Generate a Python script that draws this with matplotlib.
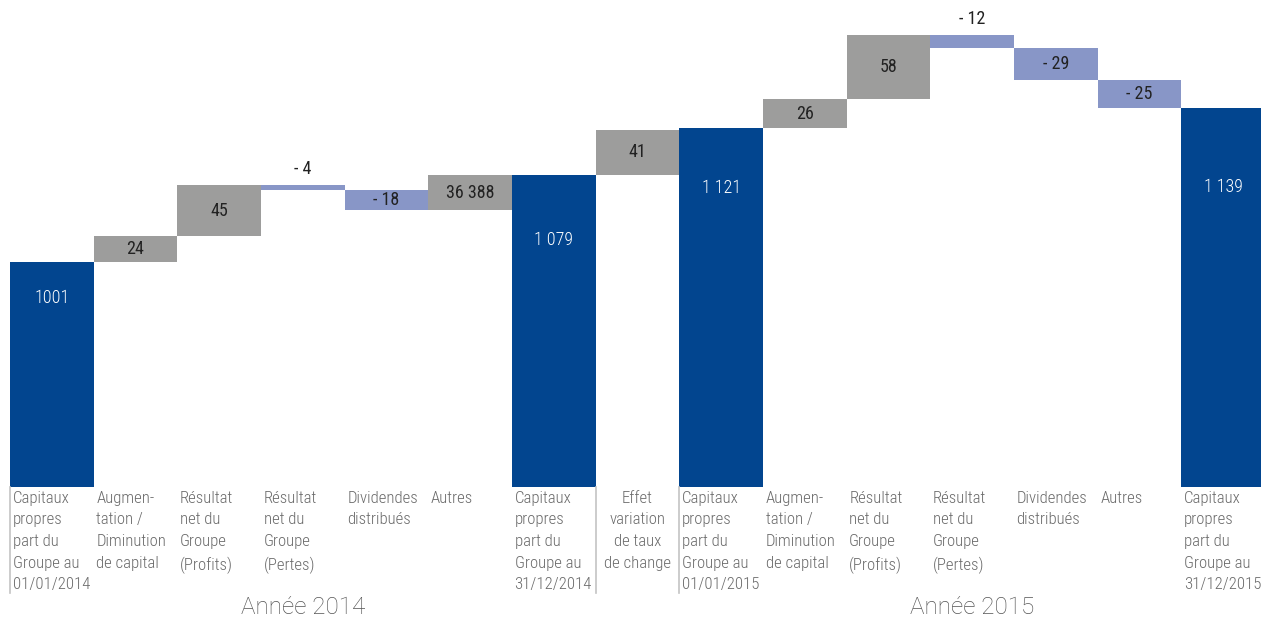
import matplotlib
matplotlib.use("Agg")
import matplotlib.pyplot as plt
from matplotlib import font_manager
from matplotlib.transforms import blended_transform_factory

# Equity bridge, 2014 -> 2015 (EUR m)
CATEGORIES = [
    "Capitaux\npropres\npart du\nGroupe au\n01/01/2014",
    "Augmen-\ntation /\nDiminution\nde capital",
    "Résultat\nnet du\nGroupe\n(Profits)",
    "Résultat\nnet du\nGroupe\n(Pertes)",
    "Dividendes\ndistribués",
    "Autres",
    "Capitaux\npropres\npart du\nGroupe au\n31/12/2014",
    "Effet\nvariation\nde taux\nde change",
    "Capitaux\npropres\npart du\nGroupe au\n01/01/2015",
    "Augmen-\ntation /\nDiminution\nde capital",
    "Résultat\nnet du\nGroupe\n(Profits)",
    "Résultat\nnet du\nGroupe\n(Pertes)",
    "Dividendes\ndistribués",
    "Autres",
    "Capitaux\npropres\npart du\nGroupe au\n31/12/2015",
]
VALUES = [1001, 24, 45, -4, -18, 31, 1079, 41, 1121, 26, 58, -12, -29, -25, 1139]
IS_TOTAL = [True, False, False, False, False, False, True, False, True,
            False, False, False, False, False, True]
VALUE_LABELS = ["1001", "24", "45", "- 4", "- 18", "36 388", "1 079", "41",
                "1 121", "26", "58", "- 12", "- 29", "- 25", "1 139"]
YEARS = ["Année 2014", "Année 2015"]

DARK_BLUE = "#02458f"
GREY = "#9d9d9c"
LIGHT_BLUE = "#8896c7"
# how far below the top of each total bar its label sits (pixels)
TOTAL_LABEL_DROP = {0: 36, 6: 65, 8: 60, 14: 79}


def pick_font(candidates):
    names = {f.name for f in font_manager.fontManager.ttflist}
    for c in candidates:
        if c in names:
            return c
    return "DejaVu Sans"


FONT = pick_font(["Roboto Condensed", "Liberation Sans Narrow", "DejaVu Sans"])
YEAR_FONT = pick_font(["Roboto", "Lato", "DejaVu Sans"])
plt.rcParams["font.family"] = [FONT, "DejaVu Sans"]

fig = plt.figure(figsize=(12.61, 6.19), dpi=100)
W, H = 1261, 619
left_px, right_px, base_px = 10, 1265, 487
ax = fig.add_axes([left_px / W, (H - base_px) / H, (right_px - left_px) / W, base_px / H])
ax.set_xlim(-0.5, len(VALUES) - 0.5)
ax.set_ylim(800, 1236)
ax.axis("off")

# waterfall bars
running = 0
floor = ax.get_ylim()[0]
for i, (v, tot) in enumerate(zip(VALUES, IS_TOTAL)):
    if tot:
        bottom, height, color = floor, v - floor, DARK_BLUE
        running = v
    else:
        bottom = running if v >= 0 else running + v
        height = abs(v)
        color = GREY if v >= 0 else LIGHT_BLUE
        running += v
    ax.bar(i, height, bottom=bottom, width=1.0, color=color, linewidth=0, zorder=2)

    # value labels
    lab = VALUE_LABELS[i]
    if tot:
        ax.annotate(lab, (i, bottom + height), xytext=(0, -TOTAL_LABEL_DROP[i]),
                    textcoords="offset pixels", ha="center", va="center",
                    fontsize=13, color="white", fontweight="light")
    elif height < 15:
        ax.annotate(lab, (i, bottom + height), xytext=(0, 16),
                    textcoords="offset pixels", ha="center", va="center",
                    fontsize=13, color="#222222")
    else:
        ax.text(i, bottom + height / 2, lab, ha="center", va="center",
                fontsize=13, color="#222222")

trans = blended_transform_factory(ax.transData, ax.transAxes)

# category labels under the bars
for i, cat in enumerate(CATEGORIES):
    if cat.startswith("Effet"):
        ax.text(i, -0.008, cat, transform=trans, ha="center", va="top",
                fontsize=12.1, color="#6b6b6b", linespacing=1.55,
                fontweight="light")
    else:
        ax.text(i - 0.47, -0.008, cat, transform=trans, ha="left", va="top",
                fontsize=12.1, color="#6b6b6b", linespacing=1.55,
                fontweight="light")

# year separators
for x in [-0.5, 6.5, 7.5]:
    ax.plot([x, x], [0, -0.218], transform=trans, color="#c4c4c4",
            linewidth=1.2, clip_on=False)

for xc, year in zip([3, 11], YEARS):
    ax.text(xc, -0.248, year, transform=trans, ha="center", va="center",
            fontsize=17.5, color="#555555", family=[YEAR_FONT, "DejaVu Sans"],
            fontweight="light")

fig.savefig("out.png", dpi=100)
